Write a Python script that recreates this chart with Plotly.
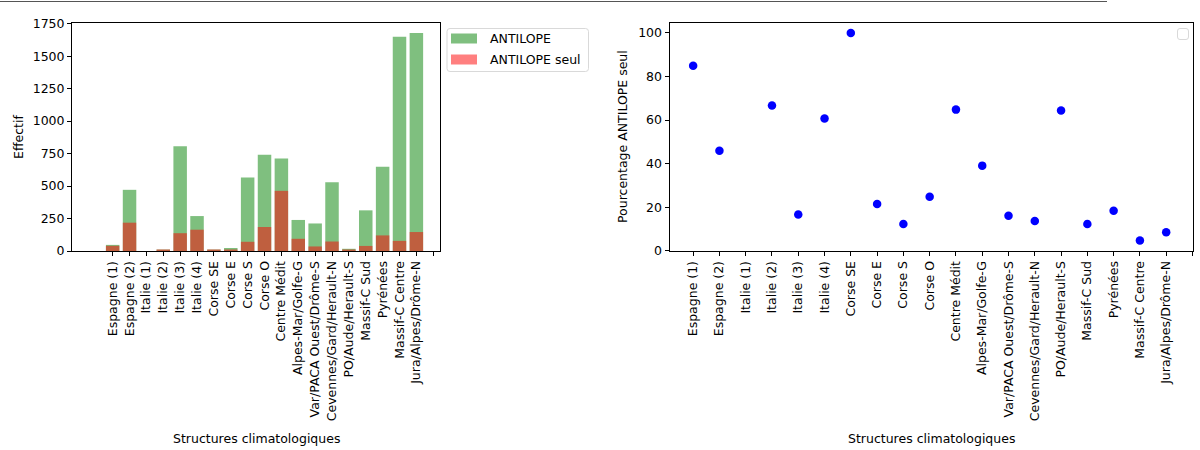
import plotly.graph_objects as go

categories = ["Espagne (1)", "Espagne (2)", "Italie (1)", "Italie (2)", "Italie (3)", "Italie (4)",
              "Corse SE", "Corse E", "Corse S", "Corse O", "Centre Médit", "Alpes-Mar/Golfe-G",
              "Var/PACA Ouest/Drôme-S", "Cevennes/Gard/Herault-N", "PO/Aude/Herault-S",
              "Massif-C Sud", "Pyrénées", "Massif-C Centre", "Jura/Alpes/Drôme-N"]
antilope = [47, 471, 0, 9, 807, 269, 7, 23, 566, 740, 712, 239, 212, 530, 17, 313, 648, 1650, 1678]
antilope_seul = [40, 218, 0, 6, 137, 164, 7, 5, 71, 185, 463, 94, 35, 73, 11, 39, 120, 78, 146]
pct_seul = [84.9, 45.9, None, 66.7, 16.7, 60.7, 100.0, 21.5, 12.3, 24.8, 64.8, 39.1, 16.1, 13.7,
            64.4, 12.3, 18.4, 4.7, 8.5]
tick_labels = categories + [""]

x_idx = list(range(len(categories)))
tick_vals = list(range(len(tick_labels)))

W, H = 1200, 450
FONT = "DejaVu Sans"
FS = 12.5

def px(x):
    return x / W

def py(y):
    return 1 - y / H

fig = go.Figure()
fig.add_trace(go.Bar(x=x_idx, y=antilope, width=0.8, name="ANTILOPE",
                     marker=dict(color="green", line=dict(width=0)), opacity=0.5,
                     xaxis="x", yaxis="y", showlegend=False))
fig.add_trace(go.Bar(x=x_idx, y=antilope_seul, width=0.8, name="ANTILOPE seul",
                     marker=dict(color="red", line=dict(width=0)), opacity=0.5,
                     xaxis="x", yaxis="y", showlegend=False))
fig.add_trace(go.Scatter(x=x_idx, y=pct_seul, mode="markers",
                         marker=dict(color="blue", size=8.5), xaxis="x2", yaxis="y2",
                         showlegend=False))

axis_common = dict(showline=True, mirror=True, linecolor="black", linewidth=1,
                   ticks="outside", ticklen=4, tickcolor="black", tickwidth=1,
                   showgrid=False, zeroline=False, automargin=False,
                   tickfont=dict(family=FONT, size=FS, color="black"))

ydom = [py(251), py(22.5)]
fig.update_layout(
    width=W, height=H, margin=dict(l=0, r=0, t=0, b=0, pad=0, autoexpand=False),
    paper_bgcolor="white", plot_bgcolor="white", barmode="overlay",
    showlegend=False,
    font=dict(family=FONT, size=FS, color="black"),
    xaxis=dict(domain=[px(72), px(440)], range=[-2.41, 19.4], tickmode="array",
               tickvals=tick_vals, ticktext=tick_labels, tickangle=-90, anchor="y", **axis_common),
    yaxis=dict(domain=ydom, range=[0, 1759], tickmode="array",
               tickvals=[0, 250, 500, 750, 1000, 1250, 1500, 1750], anchor="x", **axis_common),
    xaxis2=dict(domain=[px(669.5), px(1193)], range=[-0.9, 19.02], tickmode="array",
                tickvals=tick_vals, ticktext=tick_labels, tickangle=-90, anchor="y2", **axis_common),
    yaxis2=dict(domain=ydom, range=[-0.07, 104.77], tickmode="array",
                tickvals=[0, 20, 40, 60, 80, 100], anchor="x2", **axis_common),
)

annotations = [
    dict(text="Structures climatologiques", x=px(256), y=py(438), xref="paper", yref="paper",
         showarrow=False, xanchor="center", yanchor="middle", font=dict(family=FONT, size=FS)),
    dict(text="Structures climatologiques", x=px(931), y=py(438), xref="paper", yref="paper",
         showarrow=False, xanchor="center", yanchor="middle", font=dict(family=FONT, size=FS)),
    dict(text="Effectif", x=px(18), y=py(137), xref="paper", yref="paper", textangle=-90,
         showarrow=False, xanchor="center", yanchor="middle", font=dict(family=FONT, size=FS)),
    dict(text="Pourcentage ANTILOPE seul", x=px(622), y=py(137), xref="paper", yref="paper",
         textangle=-90, showarrow=False, xanchor="center", yanchor="middle",
         font=dict(family=FONT, size=FS)),
    dict(text="ANTILOPE", x=px(488), y=py(38.5), xref="paper", yref="paper",
         showarrow=False, xanchor="left", yanchor="middle", font=dict(family=FONT, size=FS)),
    dict(text="ANTILOPE seul", x=px(488), y=py(59.5), xref="paper", yref="paper",
         showarrow=False, xanchor="left", yanchor="middle", font=dict(family=FONT, size=FS)),
]


def rounded_rect(x0, y0, x1, y1, r):
    def P(x, y):
        return f"{px(x):.5f},{py(y):.5f}"
    return (f"M {P(x0 + r, y0)} L {P(x1 - r, y0)} Q {P(x1, y0)} {P(x1, y0 + r)} "
            f"L {P(x1, y1 - r)} Q {P(x1, y1)} {P(x1 - r, y1)} L {P(x0 + r, y1)} "
            f"Q {P(x0, y1)} {P(x0, y1 - r)} L {P(x0, y0 + r)} Q {P(x0, y0)} {P(x0 + r, y0)} Z")

shapes = [
    dict(type="line", xref="paper", yref="paper", x0=0, x1=px(1107), y0=py(1.5), y1=py(1.5),
         line=dict(color="#555555", width=1.2)),
    dict(type="path", xref="paper", yref="paper", path=rounded_rect(447, 28.5, 588.5, 71.5, 3),
         line=dict(color="#d9d9d9", width=1), fillcolor="rgba(255,255,255,0.8)"),
    dict(type="rect", xref="paper", yref="paper", x0=px(451), x1=px(477), y0=py(33.5), y1=py(43.5),
         line=dict(width=0), fillcolor="rgba(0,128,0,0.5)"),
    dict(type="rect", xref="paper", yref="paper", x0=px(451), x1=px(477), y0=py(54.5), y1=py(64.5),
         line=dict(width=0), fillcolor="rgba(255,0,0,0.5)"),
    dict(type="path", xref="paper", yref="paper", path=rounded_rect(1177.5, 28.5, 1188.5, 39.5, 2.5),
         line=dict(color="#d9d9d9", width=1), fillcolor="rgba(255,255,255,0.8)"),
]

fig.update_layout(annotations=annotations, shapes=shapes)
fig.write_html("out.html", config={"displayModeBar": False},
               post_script="document.body.style.margin='0';document.body.style.overflow='hidden';")
